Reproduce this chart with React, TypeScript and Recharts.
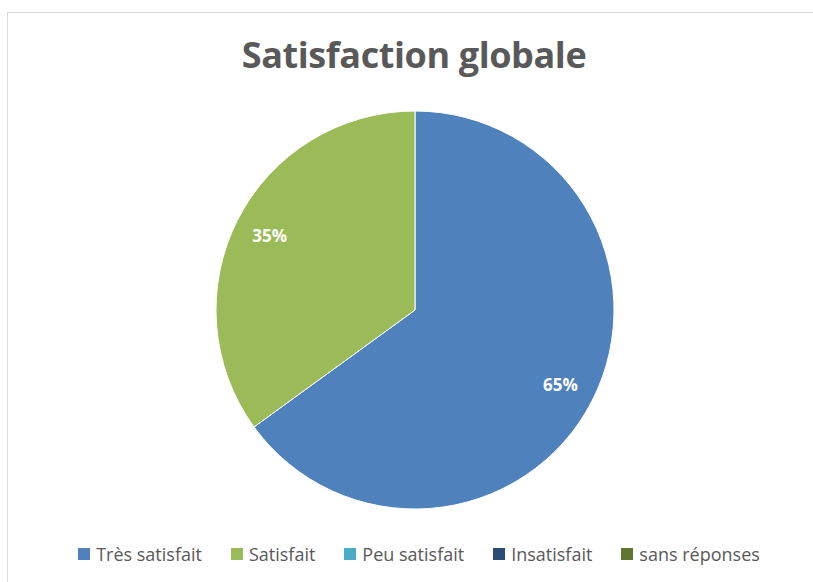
import { PieChart, Pie, Cell, Legend } from "recharts";

const categories = ["Très satisfait", "Satisfait", "Peu satisfait", "Insatisfait", "sans réponses"];
const values = [65, 35, 0, 0, 0];
const colors = ["#4f81bd", "#9bbb59", "#4bacc6", "#2c4d75", "#5f7530"];

const data = categories.map((name, i) => ({ name, value: values[i], color: colors[i] }));

const FONT = "'Open Sans', 'Liberation Sans', sans-serif";

export default function App() {
  const total = values.reduce((s, v) => s + v, 0);

  // percentage inside each slice
  const renderLabel = ({ cx, cy, midAngle, outerRadius, value }: any) => {
    if (!value) return null;
    const r = outerRadius * 0.82;
    const x = cx + r * Math.cos((-midAngle * Math.PI) / 180);
    const y = cy + r * Math.sin((-midAngle * Math.PI) / 180);
    return (
      <text
        x={x}
        y={y}
        fill="#ffffff"
        textAnchor="middle"
        dominantBaseline="central"
        fontSize={17}
        fontWeight="bold"
        fontFamily={FONT}
      >
        {`${Math.round((value / total) * 100)}%`}
      </text>
    );
  };

  const renderLegend = () => (
    <div
      style={{
        display: "flex",
        justifyContent: "center",
        alignItems: "center",
        gap: 29,
        fontFamily: FONT,
        fontSize: 18,
        color: "#595959",
      }}
    >
      {data.map((d) => (
        <div key={d.name} style={{ display: "flex", alignItems: "center" }}>
          <span style={{ width: 12, height: 12, background: d.color, marginRight: 6, display: "inline-block" }} />
          <span>{d.name}</span>
        </div>
      ))}
    </div>
  );

  return (
    <div
      style={{
        position: "absolute",
        left: 0,
        top: 0,
        width: 813,
        height: 582,
        overflow: "hidden",
        background: "#ffffff",
      }}
    >
      <div
        style={{
          position: "absolute",
          left: 7,
          top: 12,
          width: 830,
          height: 620,
          border: "1px solid #d9d9d9",
          boxSizing: "border-box",
        }}
      />
      <div
        style={{
          position: "absolute",
          left: 0,
          top: 30,
          width: 828,
          textAlign: "center",
          fontFamily: FONT,
          fontWeight: "bold",
          fontSize: 36,
          color: "#595959",
          letterSpacing: -0.4,
        }}
      >
        Satisfaction globale
      </div>
      <div style={{ position: "absolute", left: 0, top: 0 }}>
        <PieChart width={813} height={582}>
          <Pie
            data={data}
            dataKey="value"
            nameKey="name"
            cx={410}
            cy={305}
            outerRadius={199}
            startAngle={90}
            endAngle={-270}
            stroke="#ffffff"
            strokeWidth={1}
            labelLine={false}
            label={renderLabel}
            isAnimationActive={false}
          >
            {data.map((d) => (
              <Cell key={d.name} fill={d.color} />
            ))}
          </Pie>
          <Legend content={renderLegend} wrapperStyle={{ top: 542, left: 0, width: 838 }} />
        </PieChart>
      </div>
    </div>
  );
}
